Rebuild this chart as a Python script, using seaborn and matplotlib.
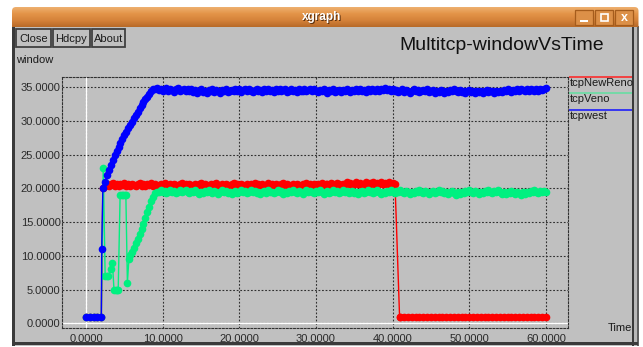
import numpy as np
import pandas as pd
import matplotlib
matplotlib.use("Agg")
import matplotlib.pyplot as plt
import seaborn as sns
from matplotlib.patches import Rectangle, FancyBboxPatch
from matplotlib.colors import LinearSegmentedColormap

# ---------------- data ----------------
series_names = ["tcpNewReno", "tcpVeno", "tcpwest"]
series_colors = ["#ff0000", "#00f080", "#0000ff"]
legend_colors = ["#ff2020", "#60e0a0", "#1010ff"]

x_ticks = [0, 10, 20, 30, 40, 50, 60]
y_ticks = [0, 5, 10, 15, 20, 25, 30, 35]

# tcpwest (blue)
west_ramp_t = [0, 0.5, 1.0, 1.5, 2.0, 2.05, 2.2, 2.5, 2.75, 3.0, 3.25, 3.5, 3.75,
               4.0, 4.25, 4.5, 4.75, 5.0, 5.25, 5.5, 5.75, 6.0, 6.25, 6.5, 6.75,
               7.0, 7.25, 7.5, 7.75, 8.0, 8.25, 8.5, 8.75]
west_ramp_w = [1, 1, 1, 1, 1, 11, 20.1, 21.0, 22.0, 22.8, 23.5, 24.2, 24.9,
               25.5, 26.2, 26.8, 27.4, 27.9, 28.4, 28.9, 29.4, 29.9, 30.4, 30.9, 31.4,
               31.9, 32.4, 32.8, 33.2, 33.6, 34.0, 34.4, 34.7]
west_flat_t = np.arange(9.0, 60.01, 0.25)
west_flat_w = [
    34.7, 34.9, 34.6, 34.8, 34.4, 34.7, 34.9, 34.5, 34.8, 34.6, 34.3, 34.7, 34.9, 34.5, 34.6, 34.8, 34.4, 34.7, 34.5, 34.8,
    34.3, 34.6, 34.2, 34.5, 34.7, 34.3, 34.5, 34.2, 34.6, 34.4, 34.7, 34.3, 34.6, 34.5, 34.2, 34.6, 34.4, 34.7, 34.3, 34.5,
    34.6, 34.4, 34.8, 34.5, 34.7, 34.3, 34.6, 34.8, 34.4, 34.7, 34.5, 34.3, 34.6, 34.8, 34.4, 34.6, 34.3, 34.7, 34.5, 34.8,
    34.4, 34.6, 34.3, 34.7, 34.5, 34.8, 34.4, 34.6, 34.7, 34.3, 34.5, 34.8, 34.4, 34.6, 34.3, 34.7, 34.5, 34.4, 34.7, 34.5,
    34.6, 34.8, 34.4, 34.7, 34.5, 34.3, 34.6, 34.4, 34.7, 34.5, 34.2, 34.6, 34.4, 34.7, 34.3, 34.5, 34.6, 34.3, 34.6, 34.4,
    34.7, 34.5, 34.3, 34.6, 34.4, 34.7, 34.5, 34.8, 34.4, 34.6, 34.3, 34.7, 34.5, 34.8, 34.6, 34.4, 34.7, 34.5, 34.8, 34.6,
    34.9, 34.6, 34.8, 34.5, 34.7, 34.4, 34.6, 34.3, 34.5, 34.7, 34.3, 34.6, 34.4, 34.2, 34.5, 34.7, 34.4, 34.6, 34.3, 34.5,
    34.6, 34.4, 34.7, 34.3, 34.5, 34.6, 34.2, 34.5, 34.3, 34.6, 34.4, 34.2, 34.5, 34.3, 34.6, 34.4, 34.7, 34.5, 34.3, 34.6,
    34.3, 34.5, 34.2, 34.4, 34.6, 34.3, 34.5, 34.2, 34.4, 34.3, 34.5, 34.2, 34.4, 34.6, 34.3, 34.5, 34.4, 34.2, 34.5, 34.3,
    34.5, 34.3, 34.6, 34.4, 34.7, 34.5, 34.3, 34.6, 34.4, 34.7, 34.5, 34.8, 34.6, 34.4, 34.7, 34.5, 34.8, 34.6, 34.4, 34.7,
    34.5, 34.8, 34.6, 34.7, 34.9]

# tcpNewReno (red)
reno_start_t = [0, 0.5, 1.0, 1.5, 2.0, 2.2]
reno_start_w = [1, 1, 1, 1, 1, 20]
reno_flat_t = np.arange(2.5, 40.01, 0.25)
reno_flat_w = [
    20.4, 20.7, 20.3, 20.6, 20.8, 20.4, 20.6, 20.3, 20.7, 20.5, 20.8, 20.4, 20.6, 20.3, 20.7, 20.5, 20.3, 20.6, 20.8, 20.4,
    20.6, 20.3, 20.7, 20.5, 20.8, 20.4, 20.6, 20.3, 20.5, 20.7, 20.4, 20.8, 20.5, 20.3, 20.6, 20.4, 20.7, 20.5, 20.3, 20.6,
    20.8, 20.4, 20.6, 20.3, 20.7, 20.5, 20.4, 20.7, 20.3, 20.6, 20.8, 20.4, 20.6, 20.5, 20.3, 20.7, 20.4, 20.6, 20.8, 20.5,
    20.3, 20.6, 20.4, 20.7, 20.5, 20.3, 20.6, 20.8, 20.4, 20.6, 20.3, 20.7, 20.5, 20.4, 20.7, 20.3, 20.6, 20.4, 20.8, 20.5,
    20.6, 20.4, 20.7, 20.3, 20.5, 20.8, 20.4, 20.6, 20.3, 20.7, 20.5, 20.4, 20.6, 20.8, 20.4, 20.7, 20.5, 20.3, 20.6, 20.4,
    20.7, 20.5, 20.3, 20.6, 20.4, 20.8, 20.5, 20.6, 20.4, 20.7, 20.3, 20.6, 20.5, 20.8, 20.4, 20.6, 20.7, 20.5, 20.8, 20.6,
    20.5, 20.8, 20.6, 20.4, 20.7, 20.5, 20.9, 20.6, 20.8, 20.5, 20.7, 20.9, 20.6, 20.8, 20.5, 20.7, 20.9, 20.6, 20.8, 20.7,
    20.9, 20.6, 20.8, 20.7, 20.9, 20.6, 20.8, 20.7, 20.9, 20.6, 20.8]
reno_drop_t = [40.3, 40.45, 40.75, 40.9]
reno_drop_w = [20.7, 16.0, 6.0, 1.0]
reno_tail_t = np.arange(41.0, 60.01, 0.5)
reno_tail_w = [1.0, 1.0, 1.0, 1.0, 1.0, 1.0, 1.0, 1.0, 1.0, 1.0,
               1.0, 1.0, 1.0, 1.0, 1.0, 1.0, 1.0, 1.0, 1.0, 1.0,
               1.0, 1.0, 1.0, 1.0, 1.0, 1.0, 1.0, 1.0, 1.0, 1.0,
               1.0, 1.0, 1.0, 1.0, 1.0, 1.0, 1.0, 1.0, 1.0]

# tcpVeno (green)
veno_start_t = [0, 0.5, 1.0, 1.5, 2.0, 2.25, 2.5, 2.7, 2.9, 3.2, 3.45,
                3.65, 3.85, 4.05, 4.2, 4.45, 4.65, 4.85, 5.05, 5.2, 5.4,
                5.6, 5.8, 6.0, 6.25, 6.5, 6.75, 7.0, 7.25, 7.5, 7.75,
                8.0, 8.25, 8.5, 8.75, 9.0, 9.25]
veno_start_w = [1, 1, 1, 1, 1, 23.0, 7.0, 7.0, 7.0, 8.0, 9.0,
                5.0, 5.0, 5.0, 5.0, 19.0, 19.0, 19.0, 19.0, 19.0, 6.0,
                9.6, 10.1, 10.6, 11.2, 11.9, 12.5, 13.2, 14.0, 14.8, 15.6,
                16.5, 17.3, 18.2, 18.8, 19.3, 19.5]
veno_flat_t = np.arange(9.5, 60.01, 0.25)
veno_flat_w = [
    19.5, 19.7, 19.4, 19.6, 19.3, 19.5, 19.7, 19.4, 19.6, 19.3, 19.5, 19.7, 19.4, 19.6, 19.8, 19.5, 19.3, 19.6, 19.4, 19.7,
    19.4, 19.2, 19.5, 19.3, 19.6, 19.4, 19.7, 19.5, 19.3, 19.6, 19.4, 19.2, 19.5, 19.7, 19.4, 19.6, 19.3, 19.5, 19.2, 19.4,
    19.6, 19.3, 19.5, 19.7, 19.4, 19.6, 19.3, 19.5, 19.8, 19.4, 19.6, 19.3, 19.5, 19.2, 19.4, 19.6, 19.3, 19.7, 19.5, 19.4,
    19.3, 19.5, 19.7, 19.4, 19.6, 19.2, 19.5, 19.3, 19.6, 19.4, 19.7, 19.5, 19.3, 19.6, 19.4, 19.2, 19.5, 19.7, 19.4, 19.6,
    19.5, 19.3, 19.6, 19.4, 19.7, 19.5, 19.2, 19.4, 19.6, 19.3, 19.5, 19.7, 19.4, 19.6, 19.3, 19.5, 19.8, 19.4, 19.6, 19.3,
    19.4, 19.6, 19.3, 19.5, 19.2, 19.4, 19.6, 19.3, 19.5, 19.7, 19.4, 19.6, 19.3, 19.5, 19.7, 19.4, 19.2, 19.5, 19.3, 19.6,
    19.4, 19.7, 19.5, 19.3, 19.6, 19.4, 19.7, 19.5, 19.3, 19.6, 19.4, 19.2, 19.5, 19.3, 19.6, 19.4, 19.7, 19.5, 19.3, 19.6,
    19.5, 19.2, 19.4, 19.6, 19.3, 19.5, 19.7, 19.4, 19.6, 19.3, 19.5, 19.2, 19.4, 19.6, 19.3, 19.1, 19.4, 19.2, 19.5, 19.3,
    19.6, 19.4, 19.7, 19.5, 19.3, 19.6, 19.4, 19.2, 19.5, 19.3, 19.6, 19.4, 19.7, 19.5, 19.3, 19.6, 19.4, 19.7, 19.5, 19.2,
    19.4, 19.2, 19.5, 19.3, 19.6, 19.4, 19.2, 19.5, 19.3, 19.1, 19.4, 19.2, 19.5, 19.3, 19.6, 19.4, 19.7, 19.5, 19.3, 19.6,
    19.4, 19.6, 19.5]

reno_t = list(reno_start_t) + list(reno_flat_t) + reno_drop_t + list(reno_tail_t)
reno_w = reno_start_w + reno_flat_w + reno_drop_w + reno_tail_w
veno_t = list(veno_start_t) + list(veno_flat_t)
veno_w = veno_start_w + veno_flat_w
west_t = list(west_ramp_t) + list(west_flat_t)
west_w = west_ramp_w + west_flat_w

# markers everywhere except the thin drop of tcpNewReno
n_before_drop = len(reno_start_t) + len(reno_flat_t)
reno_mark = [i for i in range(len(reno_t))
             if i not in (n_before_drop + 1, n_before_drop + 2)]

# ---------------- style ----------------
sns.set_style("white")
plt.rcParams["font.family"] = ["Liberation Sans", "DejaVu Sans"]

W, H = 643, 347
fig = plt.figure(figsize=(W / 100, H / 100), dpi=100)
fig.patch.set_facecolor("white")

# window chrome (pixel coordinates)
bg = fig.add_axes([0, 0, 1, 1])
bg.set_xlim(0, W)
bg.set_ylim(H, 0)
bg.axis("off")
bg.set_zorder(0)

GRAY = "#c0c0c0"
DARK = "#3a3a3a"
bg.add_patch(Rectangle((12, 26), 627, 320, facecolor=GRAY, edgecolor="none"))
bg.add_patch(Rectangle((12, 26), 3, 320, facecolor=DARK, edgecolor="none"))
bg.add_patch(Rectangle((632, 26), 2, 320, facecolor=DARK, edgecolor="none"))
bg.add_patch(Rectangle((634, 26), 3, 320, facecolor="#b8b8b8", edgecolor="none"))
bg.add_patch(Rectangle((637, 26), 1.5, 320, facecolor="#606060", edgecolor="none"))
bg.add_patch(Rectangle((12, 341.5), 626, 3.5, facecolor=DARK, edgecolor="none"))

# title bar gradient
cmap = LinearSegmentedColormap.from_list("tb", ["#eeb070", "#e39448", "#d5823a", "#b86a28"])
grad = np.linspace(0, 1, 64).reshape(-1, 1)
tb = bg.imshow(grad, cmap=cmap, extent=[12, 638.5, 27, 7], aspect="auto", zorder=1)
clip = FancyBboxPatch((12, 7), 626.5, 30, boxstyle="round,pad=0,rounding_size=4",
                      transform=bg.transData, facecolor="none", edgecolor="none")
bg.add_patch(clip)
tb.set_clip_path(clip)
bg.text(323, 18, "xgraph", color="#5a3010", fontweight="bold", fontsize=8.5,
        ha="center", va="center", zorder=2)
bg.text(322, 17, "xgraph", color="white", fontweight="bold", fontsize=8.5,
        ha="center", va="center", zorder=3)

# window control buttons
for i, x0 in enumerate([575, 595, 615]):
    bg.add_patch(Rectangle((x0, 10), 18, 15, facecolor="#dc9048",
                           edgecolor="#a55c1c", lw=0.9, zorder=2))
    cx = x0 + 9
    if i == 0:
        bg.add_patch(Rectangle((cx - 4, 19.5), 8, 2, facecolor="white", edgecolor="none", zorder=3))
    elif i == 1:
        bg.add_patch(Rectangle((cx - 3.5, 14), 7, 7, facecolor="none", edgecolor="white", lw=1.2, zorder=3))
    else:
        bg.text(cx, 17.5, "x", color="white", fontweight="bold", fontsize=9,
                ha="center", va="center", zorder=3)

# xgraph buttons
for x0, x1, lab in [(16, 50.5, "Close"), (52.5, 90, "Hdcpy"), (92, 124.5, "About")]:
    bg.add_patch(Rectangle((x0, 29), x1 - x0, 18, facecolor=GRAY,
                           edgecolor="#404040", lw=1.3, zorder=2))
    bg.text((x0 + x1) / 2, 38.5, lab, fontsize=8, ha="center", va="center",
            color="#1a1a1a", zorder=3)

bg.text(502, 45, "Multitcp-windowVsTime", fontsize=14, ha="center", va="center", color="#111111")
bg.text(16, 60, "window", fontsize=8, ha="left", va="center", color="#1a1a1a")
bg.text(632, 328, "Time", fontsize=8, ha="right", va="center", color="#1a1a1a")

# legend (xgraph style: line above label)
for name, col, yl, yt in zip(series_names, legend_colors, [76.5, 93, 109.5], [82.5, 99, 115.5]):
    bg.plot([569, 632], [yl, yl], color=col, lw=1.1, solid_capstyle="butt")
    bg.text(570, yt, name, fontsize=8, ha="left", va="center", color="#1a1a1a")

# ---------------- plot area ----------------
L, R, T, B = 62, 568, 77, 328
ax = fig.add_axes([L / W, 1 - B / H, (R - L) / W, (B - T) / H])
ax.set_zorder(1)
ax.patch.set_alpha(0)

dot = (0, (1.6, 1.6))
ax.grid(True, color="#303030", linestyle=dot, lw=0.8)
ax.set_axisbelow(True)
ax.axvline(0, color="white", lw=1.0, zorder=1.5)
ax.axhline(0, color="white", lw=1.0, zorder=1.5)

common = dict(marker="o", ms=5.5, mew=0, lw=1.0, estimator=None, sort=False, ax=ax)
sns.lineplot(x=reno_t, y=reno_w, color=series_colors[0], markevery=reno_mark, zorder=3, **common)
sns.lineplot(x=veno_t, y=veno_w, color=series_colors[1], zorder=4, **common)
sns.lineplot(x=west_t, y=west_w, color=series_colors[2], zorder=5, **common)

ax.set_xlim(-3.13, 62.87)
ax.set_ylim(-0.70, 36.53)
ax.set_xticks(x_ticks)
ax.set_xticklabels([f"{v:.4f}" for v in x_ticks])
ax.set_yticks(y_ticks)
ax.set_yticklabels([f"{v:.4f}" for v in y_ticks])
ax.set_xlabel("")
ax.set_ylabel("")
ax.tick_params(axis="both", length=0, labelsize=8, labelcolor="#2a2a2a")
ax.tick_params(axis="x", pad=4)
ax.tick_params(axis="y", pad=1)
for sp in ax.spines.values():
    sp.set_visible(True)
    sp.set_linestyle(dot)
    sp.set_color("#303030")
    sp.set_linewidth(0.8)

fig.savefig("out.png", dpi=100, facecolor="white")
